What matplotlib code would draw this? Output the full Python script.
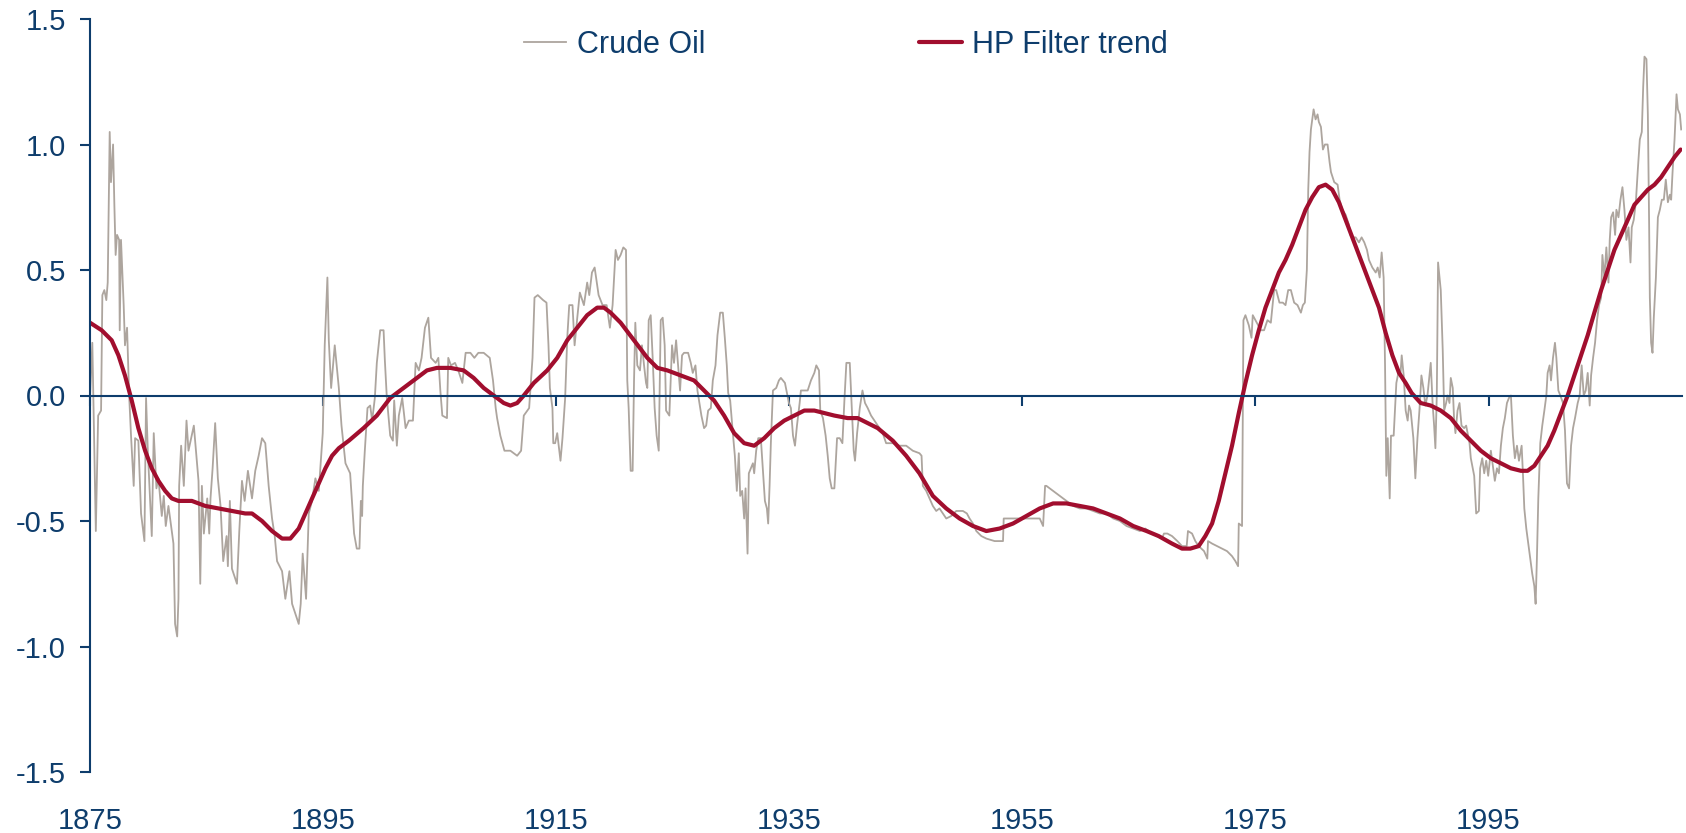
import numpy as np
import matplotlib
matplotlib.use("Agg")
import matplotlib.pyplot as plt

plt.rcParams['font.family'] = ['Liberation Sans', 'DejaVu Sans']

# crude oil, year and value lists kept row-aligned
oil_years = [
    1875.0, 1875.2, 1875.5, 1875.7, 1875.95, 1876.06, 1876.23, 1876.4, 1876.52, 1876.69,
    1876.8, 1876.98, 1877.09, 1877.2, 1877.32, 1877.5, 1877.55, 1877.66, 1877.89, 1878.0,
    1878.18, 1878.35, 1878.52, 1878.75, 1878.87, 1879.15, 1879.38, 1879.67, 1879.81, 1879.96,
    1880.3, 1880.47, 1880.7, 1880.87, 1881.16, 1881.33, 1881.5, 1881.73, 1882.16, 1882.3,
    1882.48, 1882.59, 1882.65, 1882.82, 1883.05, 1883.28, 1883.45, 1883.91, 1884.31, 1884.46,
    1884.6, 1884.77, 1885.06, 1885.23, 1885.34, 1885.52, 1885.74, 1885.97, 1886.2, 1886.43,
    1886.72, 1886.83, 1887.0, 1887.18, 1887.61, 1887.81, 1888.04, 1888.27, 1888.55, 1888.9,
    1889.18, 1889.47, 1889.76, 1890.04, 1890.33, 1890.62, 1890.85, 1891.05, 1891.48, 1891.76,
    1892.11, 1892.34, 1892.62, 1892.91, 1893.08, 1893.25, 1893.54, 1893.77, 1894.05, 1894.34,
    1894.63, 1894.97, 1895.14, 1895.37, 1895.49, 1895.69, 1896.0, 1896.35, 1896.58, 1896.92,
    1897.32, 1897.66, 1897.89, 1898.12, 1898.24, 1898.35, 1898.41, 1898.58, 1898.81, 1899.04,
    1899.21, 1899.44, 1899.61, 1899.9, 1900.19, 1900.3, 1900.47, 1900.76, 1900.99, 1901.1,
    1901.33, 1901.5, 1901.79, 1902.08, 1902.36, 1902.71, 1902.94, 1903.22, 1903.45, 1903.74,
    1904.03, 1904.26, 1904.66, 1904.89, 1905.06, 1905.23, 1905.63, 1905.74, 1905.97, 1906.32,
    1906.6, 1906.95, 1907.23, 1907.64, 1907.98, 1908.32, 1908.78, 1909.3, 1909.58, 1909.81,
    1909.93, 1910.21, 1910.56, 1911.07, 1911.65, 1911.99, 1912.22, 1912.68, 1912.97, 1913.14,
    1913.42, 1913.88, 1914.17, 1914.34, 1914.46, 1914.68, 1914.75, 1914.91, 1915.09, 1915.37,
    1915.54, 1915.77, 1915.95, 1916.12, 1916.4, 1916.58, 1916.81, 1917.03, 1917.38, 1917.66,
    1917.84, 1918.07, 1918.3, 1918.64, 1918.98, 1919.33, 1919.61, 1919.84, 1920.1, 1920.3,
    1920.53, 1920.76, 1920.99, 1921.1, 1921.22, 1921.39, 1921.56, 1921.68, 1921.79, 1921.96,
    1922.19, 1922.36, 1922.54, 1922.71, 1922.82, 1922.94, 1923.11, 1923.28, 1923.45, 1923.62,
    1923.8, 1923.97, 1924.14, 1924.31, 1924.43, 1924.71, 1924.94, 1925.11, 1925.29, 1925.46,
    1925.63, 1925.8, 1925.97, 1926.32, 1926.55, 1926.72, 1926.95, 1927.12, 1927.29, 1927.46,
    1927.69, 1927.87, 1928.04, 1928.27, 1928.44, 1928.67, 1928.84, 1929.07, 1929.3, 1929.47,
    1929.64, 1929.76, 1929.93, 1930.16, 1930.33, 1930.5, 1930.67, 1930.79, 1930.96, 1931.13,
    1931.25, 1931.42, 1931.53, 1931.7, 1931.88, 1931.99, 1932.16, 1932.34, 1932.56, 1932.74,
    1932.91, 1933.08, 1933.19, 1933.31, 1933.42, 1933.6, 1933.88, 1934.11, 1934.28, 1934.63,
    1934.8, 1934.97, 1935.14, 1935.32, 1935.49, 1935.66, 1935.89, 1936.0, 1936.17, 1936.58,
    1936.86, 1937.15, 1937.32, 1937.55, 1937.66, 1937.89, 1938.12, 1938.3, 1938.47, 1938.64,
    1938.87, 1939.1, 1939.33, 1939.56, 1939.73, 1939.9, 1940.19, 1940.36, 1940.53, 1940.64,
    1940.82, 1941.05, 1941.28, 1941.5, 1941.73, 1942.02, 1942.31, 1942.59, 1942.74, 1943.02,
    1943.31, 1943.88, 1944.46, 1945.03, 1945.6, 1946.17, 1946.35, 1946.46, 1946.75, 1947.03,
    1947.32, 1947.61, 1947.89, 1948.18, 1948.47, 1948.9, 1949.33, 1949.9, 1950.24, 1950.47,
    1950.76, 1951.05, 1951.48, 1951.91, 1952.62, 1953.34, 1953.4, 1954.2, 1955.06, 1955.92,
    1956.49, 1956.78, 1956.95, 1957.06, 1957.35, 1957.64, 1958.21, 1958.78, 1959.36, 1959.93,
    1960.5, 1961.07, 1961.65, 1962.22, 1962.79, 1963.37, 1963.94, 1964.51, 1965.09, 1965.54,
    1966.12, 1966.98, 1967.15, 1967.44, 1967.84, 1968.3, 1968.7, 1969.1, 1969.21, 1969.56,
    1969.84, 1970.13, 1970.59, 1970.87, 1970.93, 1971.28, 1971.7, 1972.13, 1972.56, 1972.99,
    1973.28, 1973.51, 1973.57, 1973.85, 1973.97, 1974.14, 1974.43, 1974.66, 1974.77, 1975.11,
    1975.46, 1975.74, 1976.03, 1976.32, 1976.6, 1976.78, 1977.06, 1977.35, 1977.58, 1977.81,
    1978.04, 1978.32, 1978.61, 1978.9, 1979.07, 1979.24, 1979.41, 1979.53, 1979.64, 1979.76,
    1979.99, 1980.16, 1980.33, 1980.44, 1980.62, 1980.79, 1980.96, 1981.19, 1981.36, 1981.48,
    1981.76, 1982.05, 1982.22, 1982.45, 1982.74, 1983.02, 1983.14, 1983.31, 1983.6, 1983.88,
    1984.11, 1984.34, 1984.57, 1984.74, 1985.03, 1985.32, 1985.49, 1985.66, 1985.83, 1986.0,
    1986.12, 1986.23, 1986.35, 1986.52, 1986.63, 1986.86, 1987.09, 1987.26, 1987.44, 1987.55,
    1987.72, 1987.89, 1988.06, 1988.18, 1988.32, 1988.55, 1988.72, 1988.9, 1989.07, 1989.24,
    1989.41, 1989.58, 1989.76, 1989.93, 1990.04, 1990.21, 1990.33, 1990.44, 1990.56, 1990.67,
    1990.9, 1991.07, 1991.19, 1991.36, 1991.48, 1991.65, 1991.76, 1991.93, 1992.05, 1992.16,
    1992.34, 1992.51, 1992.68, 1992.91, 1993.08, 1993.25, 1993.37, 1993.48, 1993.65, 1993.77,
    1993.94, 1994.17, 1994.28, 1994.46, 1994.63, 1994.8, 1994.97, 1995.2, 1995.37, 1995.54,
    1995.72, 1995.89, 1996.06, 1996.23, 1996.4, 1996.58, 1996.75, 1996.92, 1997.09, 1997.26,
    1997.44, 1997.61, 1997.84, 1997.95, 1998.07, 1998.24, 1998.41, 1998.58, 1998.75, 1998.93,
    1999.04, 1999.15, 1999.27, 1999.44, 1999.61, 1999.79, 1999.96, 2000.07, 2000.24, 2000.36,
    2000.53, 2000.7, 2000.82, 2000.99, 2001.16, 2001.39, 2001.56, 2001.73, 2001.91, 2002.08,
    2002.25, 2002.42, 2002.65, 2002.82, 2002.99, 2003.17, 2003.34, 2003.51, 2003.68, 2003.8,
    2003.97, 2004.14, 2004.31, 2004.48, 2004.66, 2004.77, 2004.94, 2005.11, 2005.29, 2005.4,
    2005.52, 2005.69, 2005.86, 2005.97, 2006.15, 2006.32, 2006.49, 2006.66, 2006.83, 2007.01,
    2007.18, 2007.29, 2007.46, 2007.64, 2007.81, 2007.98, 2008.15, 2008.27, 2008.38, 2008.55,
    2008.67, 2008.78, 2008.84, 2008.95, 2009.07, 2009.18, 2009.36, 2009.53, 2009.7, 2009.87,
    2010.04, 2010.21, 2010.39, 2010.56, 2010.67, 2010.79, 2010.96, 2011.13, 2011.25, 2011.42,
    2011.53,
]
oil_values = [
    -0.01, 0.21, -0.54, -0.08, -0.06, 0.40, 0.42, 0.38, 0.45, 1.05,
    0.85, 1.00, 0.76, 0.56, 0.64, 0.62, 0.26, 0.62, 0.36, 0.20,
    0.27, 0.01, -0.16, -0.36, -0.17, -0.18, -0.47, -0.58, -0.01, -0.22,
    -0.56, -0.15, -0.37, -0.33, -0.48, -0.40, -0.52, -0.44, -0.59, -0.91,
    -0.96, -0.81, -0.36, -0.20, -0.36, -0.10, -0.22, -0.12, -0.34, -0.75,
    -0.36, -0.55, -0.41, -0.55, -0.41, -0.29, -0.11, -0.33, -0.44, -0.66,
    -0.56, -0.68, -0.42, -0.69, -0.75, -0.54, -0.34, -0.42, -0.30, -0.41,
    -0.30, -0.24, -0.17, -0.19, -0.36, -0.49, -0.56, -0.66, -0.70, -0.81,
    -0.70, -0.83, -0.87, -0.91, -0.83, -0.63, -0.81, -0.47, -0.42, -0.33,
    -0.38, -0.15, 0.20, 0.47, 0.22, 0.03, 0.20, 0.03, -0.12, -0.27,
    -0.31, -0.55, -0.61, -0.61, -0.42, -0.48, -0.36, -0.22, -0.05, -0.04,
    -0.10, -0.01, 0.13, 0.26, 0.26, 0.14, -0.01, -0.16, -0.18, -0.02,
    -0.20, -0.08, -0.01, -0.13, -0.10, -0.10, 0.13, 0.10, 0.15, 0.27,
    0.31, 0.15, 0.13, 0.15, 0.02, -0.08, -0.09, 0.15, 0.12, 0.13,
    0.10, 0.05, 0.17, 0.17, 0.15, 0.17, 0.17, 0.15, 0.06, -0.05,
    -0.09, -0.16, -0.22, -0.22, -0.24, -0.22, -0.08, -0.05, 0.15, 0.39,
    0.40, 0.38, 0.37, 0.20, 0.03, -0.05, -0.19, -0.19, -0.15, -0.26,
    -0.17, -0.01, 0.23, 0.36, 0.36, 0.20, 0.31, 0.41, 0.36, 0.45,
    0.40, 0.49, 0.51, 0.40, 0.36, 0.36, 0.27, 0.36, 0.58, 0.54,
    0.56, 0.59, 0.58, 0.06, -0.05, -0.30, -0.30, 0.06, 0.29, 0.12,
    0.10, 0.20, 0.12, 0.05, 0.03, 0.30, 0.32, 0.15, -0.05, -0.16,
    -0.22, 0.30, 0.31, 0.20, -0.06, -0.08, 0.20, 0.13, 0.22, 0.12,
    0.02, 0.16, 0.17, 0.17, 0.13, 0.09, 0.12, 0.02, -0.03, -0.08,
    -0.13, -0.12, -0.06, -0.05, 0.06, 0.12, 0.24, 0.33, 0.33, 0.23,
    0.12, 0.01, -0.02, -0.15, -0.24, -0.38, -0.23, -0.40, -0.38, -0.49,
    -0.37, -0.63, -0.31, -0.29, -0.27, -0.31, -0.22, -0.17, -0.17, -0.30,
    -0.42, -0.45, -0.51, -0.36, -0.19, 0.02, 0.03, 0.06, 0.07, 0.05,
    0.01, -0.03, -0.05, -0.16, -0.20, -0.12, -0.03, 0.02, 0.02, 0.02,
    0.06, 0.09, 0.12, 0.10, -0.06, -0.09, -0.16, -0.24, -0.33, -0.37,
    -0.37, -0.17, -0.17, -0.19, -0.02, 0.13, 0.13, -0.05, -0.22, -0.26,
    -0.15, -0.05, 0.02, -0.03, -0.05, -0.08, -0.10, -0.12, -0.13, -0.15,
    -0.19, -0.19, -0.20, -0.20, -0.22, -0.23, -0.24, -0.36, -0.38, -0.41,
    -0.44, -0.46, -0.45, -0.47, -0.49, -0.48, -0.46, -0.46, -0.47, -0.49,
    -0.51, -0.54, -0.56, -0.57, -0.58, -0.58, -0.49, -0.49, -0.49, -0.49,
    -0.49, -0.52, -0.36, -0.36, -0.37, -0.38, -0.40, -0.42, -0.44, -0.45,
    -0.45, -0.46, -0.47, -0.47, -0.49, -0.50, -0.52, -0.53, -0.54, -0.53,
    -0.55, -0.57, -0.55, -0.55, -0.56, -0.58, -0.60, -0.60, -0.54, -0.55,
    -0.58, -0.60, -0.62, -0.65, -0.58, -0.59, -0.60, -0.61, -0.62, -0.64,
    -0.66, -0.68, -0.51, -0.52, 0.30, 0.32, 0.28, 0.23, 0.32, 0.29,
    0.26, 0.26, 0.30, 0.29, 0.42, 0.42, 0.37, 0.37, 0.36, 0.42,
    0.42, 0.37, 0.36, 0.33, 0.36, 0.37, 0.50, 0.82, 0.97, 1.06,
    1.14, 1.10, 1.12, 1.09, 1.07, 0.98, 1.00, 1.00, 0.93, 0.89,
    0.85, 0.84, 0.78, 0.74, 0.72, 0.68, 0.64, 0.63, 0.63, 0.61,
    0.63, 0.61, 0.58, 0.54, 0.51, 0.49, 0.51, 0.47, 0.57, 0.47,
    0.12, -0.32, -0.17, -0.41, -0.16, -0.16, 0.05, 0.09, 0.08, 0.16,
    0.08, -0.06, -0.10, -0.04, -0.06, -0.17, -0.33, -0.17, -0.06, 0.08,
    0.03, -0.04, 0.00, 0.08, 0.13, -0.04, -0.12, -0.21, 0.00, 0.53,
    0.42, 0.18, -0.06, -0.03, 0.00, -0.03, 0.07, 0.03, -0.10, -0.15,
    -0.06, -0.03, -0.12, -0.13, -0.12, -0.16, -0.19, -0.25, -0.29, -0.32,
    -0.47, -0.46, -0.29, -0.25, -0.31, -0.26, -0.32, -0.22, -0.28, -0.34,
    -0.29, -0.31, -0.20, -0.13, -0.09, -0.03, -0.01, 0.00, -0.16, -0.25,
    -0.20, -0.26, -0.20, -0.31, -0.45, -0.53, -0.59, -0.65, -0.71, -0.76,
    -0.83, -0.65, -0.41, -0.19, -0.12, -0.06, 0.00, 0.09, 0.12, 0.06,
    0.15, 0.21, 0.15, 0.02, 0.00, -0.03, -0.14, -0.35, -0.37, -0.20,
    -0.13, -0.09, -0.03, 0.00, 0.12, 0.00, 0.02, 0.09, -0.04, 0.08,
    0.15, 0.21, 0.30, 0.36, 0.39, 0.56, 0.47, 0.59, 0.45, 0.62,
    0.71, 0.73, 0.64, 0.74, 0.71, 0.78, 0.83, 0.74, 0.62, 0.67,
    0.53, 0.67, 0.70, 0.77, 0.90, 1.02, 1.05, 1.23, 1.35, 1.34,
    1.12, 0.68, 0.39, 0.21, 0.17, 0.31, 0.47, 0.71, 0.74, 0.78,
    0.78, 0.86, 0.77, 0.80, 0.78, 0.89, 1.02, 1.20, 1.14, 1.12,
    1.06,
]

# HP filter trend
hp_years = [
    1875.0, 1876.0, 1876.86, 1877.44, 1878.0, 1878.58, 1879.15, 1879.73, 1880.3, 1880.87,
    1881.45, 1882.02, 1882.59, 1883.74, 1884.89, 1886.03, 1887.18, 1888.32, 1888.9, 1889.76,
    1890.62, 1891.48, 1892.19, 1892.91, 1893.48, 1894.05, 1894.63, 1895.2, 1895.77, 1896.35,
    1897.21, 1898.47, 1899.61, 1900.76, 1901.9, 1903.05, 1903.91, 1904.77, 1905.92, 1907.06,
    1907.92, 1908.78, 1909.64, 1910.5, 1911.07, 1911.65, 1912.22, 1913.08, 1914.23, 1915.09,
    1915.95, 1916.81, 1917.66, 1918.52, 1919.1, 1919.67, 1920.53, 1921.68, 1922.82, 1923.68,
    1924.54, 1925.69, 1926.83, 1927.69, 1928.55, 1929.41, 1930.27, 1931.13, 1931.99, 1932.85,
    1933.71, 1934.57, 1935.43, 1936.29, 1937.15, 1938.01, 1938.87, 1940.01, 1940.87, 1941.73,
    1942.59, 1943.88, 1945.03, 1946.17, 1947.32, 1948.47, 1949.61, 1950.76, 1951.91, 1953.05,
    1954.2, 1955.34, 1956.49, 1957.64, 1958.78, 1959.93, 1961.07, 1962.22, 1963.37, 1964.51,
    1965.66, 1966.69, 1967.84, 1968.7, 1969.41, 1970.13, 1970.7, 1971.28, 1971.85, 1972.42,
    1972.99, 1973.57, 1974.14, 1974.71, 1975.29, 1975.86, 1976.43, 1977.01, 1977.58, 1978.15,
    1978.72, 1979.3, 1979.87, 1980.44, 1981.02, 1981.59, 1982.16, 1982.74, 1983.31, 1983.88,
    1984.46, 1985.03, 1985.6, 1986.17, 1986.75, 1987.32, 1987.89, 1988.4, 1989.18, 1990.04,
    1990.9, 1991.76, 1992.62, 1993.48, 1994.34, 1995.2, 1996.06, 1996.92, 1997.78, 1998.35,
    1998.93, 1999.5, 2000.07, 2000.64, 2001.22, 2001.79, 2002.36, 2002.94, 2003.51, 2004.08,
    2004.66, 2005.23, 2005.8, 2006.38, 2006.95, 2007.52, 2008.09, 2008.67, 2009.24, 2009.81,
    2010.39, 2010.96, 2011.48,
]
hp_values = [
    0.29, 0.26, 0.22, 0.16, 0.08, -0.02, -0.13, -0.22, -0.29, -0.34,
    -0.38, -0.41, -0.42, -0.42, -0.44, -0.45, -0.46, -0.47, -0.47, -0.50,
    -0.54, -0.57, -0.57, -0.53, -0.47, -0.41, -0.35, -0.29, -0.24, -0.21,
    -0.18, -0.13, -0.08, -0.01, 0.03, 0.07, 0.10, 0.11, 0.11, 0.10,
    0.07, 0.03, 0.00, -0.03, -0.04, -0.03, 0.00, 0.05, 0.10, 0.15,
    0.22, 0.27, 0.32, 0.35, 0.35, 0.33, 0.29, 0.22, 0.15, 0.11,
    0.10, 0.08, 0.06, 0.02, -0.02, -0.08, -0.15, -0.19, -0.20, -0.17,
    -0.13, -0.10, -0.08, -0.06, -0.06, -0.07, -0.08, -0.09, -0.09, -0.11,
    -0.13, -0.18, -0.24, -0.31, -0.40, -0.45, -0.49, -0.52, -0.54, -0.53,
    -0.51, -0.48, -0.45, -0.43, -0.43, -0.44, -0.45, -0.47, -0.49, -0.52,
    -0.54, -0.56, -0.59, -0.61, -0.61, -0.60, -0.56, -0.51, -0.42, -0.31,
    -0.20, -0.07, 0.05, 0.16, 0.26, 0.35, 0.42, 0.49, 0.54, 0.60,
    0.67, 0.74, 0.79, 0.83, 0.84, 0.82, 0.77, 0.70, 0.63, 0.56,
    0.49, 0.42, 0.35, 0.25, 0.16, 0.09, 0.05, 0.01, -0.03, -0.04,
    -0.06, -0.09, -0.14, -0.18, -0.22, -0.25, -0.27, -0.29, -0.30, -0.30,
    -0.28, -0.24, -0.20, -0.14, -0.07, 0.00, 0.08, 0.16, 0.24, 0.33,
    0.42, 0.50, 0.58, 0.64, 0.70, 0.76, 0.79, 0.82, 0.84, 0.87,
    0.91, 0.95, 0.98,
]
assert len(oil_years) == len(oil_values)
assert len(hp_years) == len(hp_values)

x_ticks = [1875, 1895, 1915, 1935, 1955, 1975, 1995]
y_ticks = [-1.5, -1.0, -0.5, 0.0, 0.5, 1.0, 1.5]

navy = '#0E3D6C'
W, H = 1686, 833
fig = plt.figure(figsize=(W / 100, H / 100), dpi=100)
ax = fig.add_axes([90 / W, 1 - 772 / H, (1682 - 90) / W, (772 - 19) / H])

ax.plot(oil_years, oil_values, color='#ADA59E', lw=1.3, label='Crude Oil')
ax.plot(hp_years, hp_values, color='#A10E2E', lw=3.0, label='HP Filter trend',
        solid_capstyle='round', solid_joinstyle='round')

ax.set_xlim(1875, 2011.6)
ax.set_ylim(-1.5, 1.5)

for s in ['top', 'right']:
    ax.spines[s].set_visible(False)
ax.spines['left'].set_color(navy)
ax.spines['left'].set_linewidth(1.5)
ax.spines['bottom'].set_position(('data', 0))
ax.spines['bottom'].set_color(navy)
ax.spines['bottom'].set_linewidth(1.5)

ax.set_xticks(x_ticks)
ax.set_xticklabels([str(t) for t in x_ticks])
ax.set_yticks(y_ticks)
ax.set_yticklabels([f'{t:.1f}' for t in y_ticks])
ax.tick_params(axis='y', length=7.2, width=1.5, color=navy, labelcolor=navy,
               labelsize=21, pad=10)
ax.tick_params(axis='x', length=7.2, width=1.5, color=navy, labelcolor=navy,
               labelsize=21, direction='out', pad=289)

ax.legend(loc='center', bbox_to_anchor=(0.4746, 0.9655), ncol=2, frameon=False,
          fontsize=22, labelcolor=navy, handlelength=1.4, handletextpad=0.33,
          columnspacing=7.0)

fig.savefig('out.png', dpi=100)
